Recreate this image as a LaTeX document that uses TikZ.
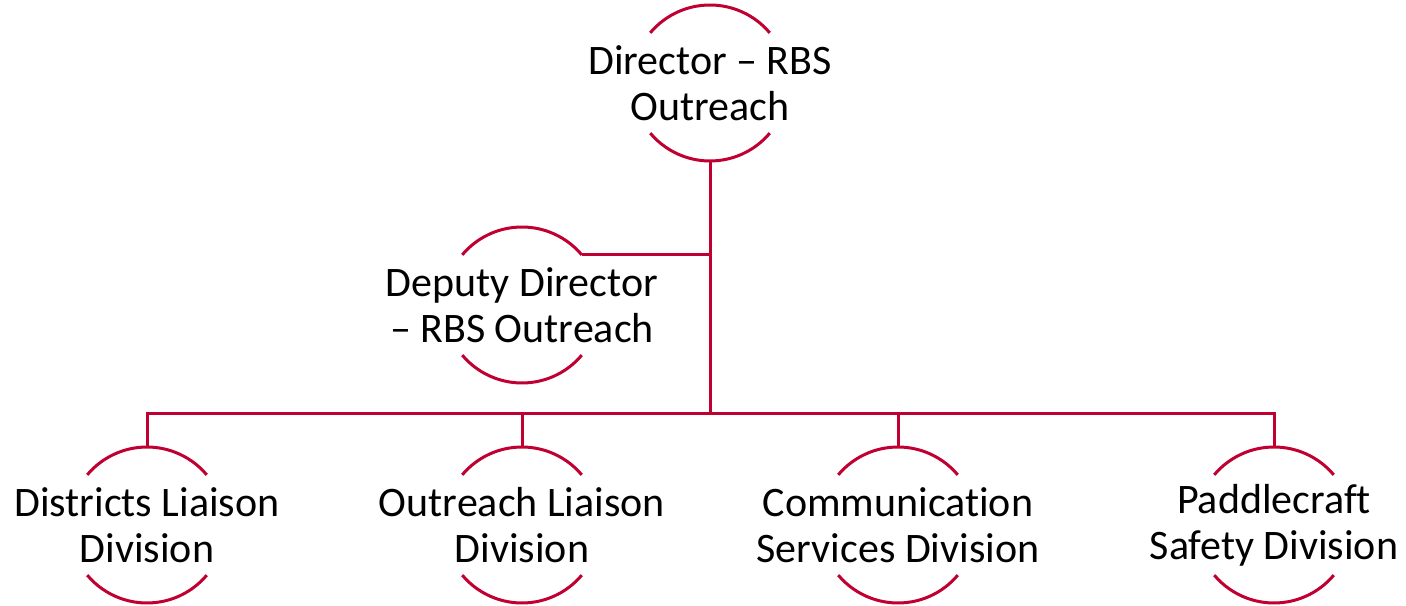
\documentclass[tikz,border=0pt]{standalone}
\usepackage{fontspec}
\setmainfont[Ligatures={NoCommon}]{Carlito}
\definecolor{crim}{RGB}{192,0,48}
\begin{document}
\begin{tikzpicture}[x=0.5pt,y=0.5pt,
  ring/.style={circle,minimum size=78pt,inner sep=0pt,outer sep=0pt},
  arcline/.style={draw=crim,line width=1.5pt},
  lab/.style={align=center,font=\fontsize{21}{23}\selectfont,text=black,inner sep=0pt},
  link/.style={draw=crim,line width=1.5pt}]
\useasboundingbox (0,0) rectangle (1406,605);
\node[ring] (top) at (710,522) {};
\node[ring] (dep) at (522,300) {};
\node[ring] (c1) at (147,80) {};
\node[ring] (c2) at (522,80) {};
\node[ring] (c3) at (898,80) {};
\node[ring] (c4) at (1274,80) {};
\foreach \n in {top,dep,c1,c2,c3,c4}{
  \draw[arcline] (\n.40) arc[start angle=40,end angle=140,radius=39pt];
  \draw[arcline] (\n.220) arc[start angle=220,end angle=320,radius=39pt];
}
\node[lab] (ttop) at (top.center) {Director – RBS\\Outreach};
\node[lab] (tdep) at (dep.center) {Deputy Director\\– RBS Outreach};
\node[lab] (t1) at (c1.center) {Districts Liaison\\Division};
\node[lab] (t2) at (c2.center) {Outreach Liaison\\Division};
\node[lab] (t3) at (c3.center) {Communication\\Services Division};
\node[lab] (t4) at (c4.center) {Paddlecraft\\Safety Division};
\coordinate (bus) at (710,191);
\draw[link] (top.south) -- (bus);
\draw[link] (dep.40) -- (dep.40 -| top.south);
\draw[link] (c1.north) -- (c1.north |- bus) -- (c4.north |- bus) -- (c4.north);
\draw[link] (c2.north) -- (c2.north |- bus);
\draw[link] (c3.north) -- (c3.north |- bus);
\end{tikzpicture}
\end{document}
